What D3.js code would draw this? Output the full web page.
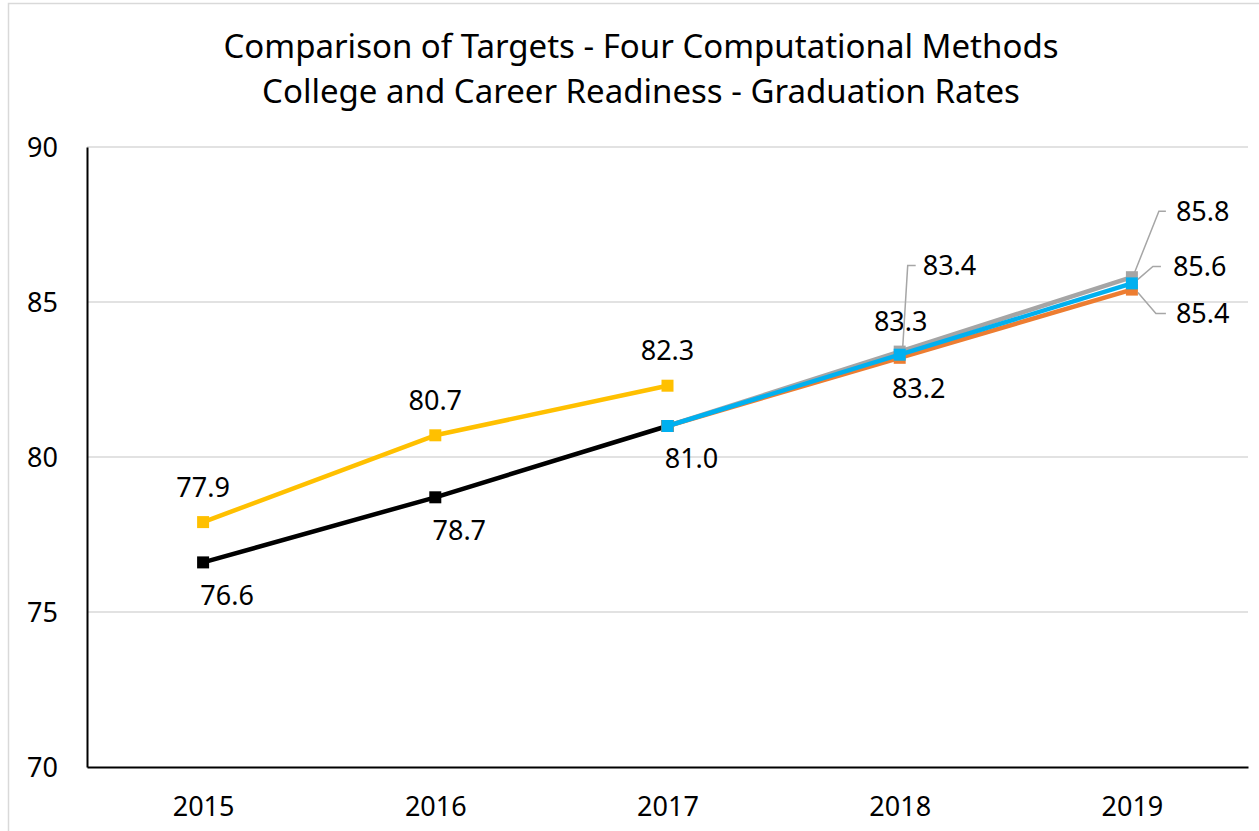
<!DOCTYPE html>
<html>
<head>
<meta charset="utf-8">
<script src="https://cdn.jsdelivr.net/npm/d3@7"></script>
<style>
  body { margin: 0; background: #fff; }
  text { font-family: "Noto Sans", "Open Sans", sans-serif; fill: #000; }
</style>
</head>
<body>
<div id="chart"></div>
<script>
// data
var years = ["2015", "2016", "2017", "2018", "2019"];
var yTicks = [70, 75, 80, 85, 90];
var titleLines = ["Comparison of Targets - Four Computational Methods",
                  "College and Career Readiness - Graduation Rates"];

var blackVals  = [76.6, 78.7, 81.0, null, null];
var yellowVals = [77.9, 80.7, 82.3, null, null];
var grayVals   = [null, null, 81.0, 83.4, 85.8];
var orangeVals = [null, null, 81.0, 83.2, 85.4];
var blueVals   = [null, null, 81.0, 83.3, 85.6];

var W = 1259, H = 831;
var margin = {top: 147, right: 11, bottom: 64, left: 87},
    width = W - margin.left - margin.right,
    height = H - margin.top - margin.bottom;

var svg = d3.select("#chart")
    .append("svg")
        .attr("width", W)
        .attr("height", H);

// outer chart border
svg.append("rect")
    .attr("x", 8.5).attr("y", 3.5)
    .attr("width", W).attr("height", H)
    .attr("fill", "none")
    .attr("stroke", "#d9d9d9")
    .attr("stroke-width", 1.5);

// title
svg.append("g").selectAll("text")
    .data(titleLines)
    .enter()
    .append("text")
    .attr("x", 641)
    .attr("y", function(d, i) { return 58 + i * 45; })
    .attr("text-anchor", "middle")
    .attr("font-size", "33px")
    .text(function(d) { return d; });

var g = svg.append("g")
    .attr("transform", "translate(" + margin.left + "," + margin.top + ")");

var x = d3.scalePoint()
    .domain(years)
    .range([0, width])
    .padding(0.5);

var y = d3.scaleLinear()
    .domain([70, 90])
    .range([height, 0]);

// gridlines
g.append("g")
    .selectAll("line")
    .data(yTicks.slice(1))
    .enter()
    .append("line")
    .attr("x1", 0).attr("x2", width)
    .attr("y1", function(d) { return y(d); })
    .attr("y2", function(d) { return y(d); })
    .attr("stroke", "#d9d9d9")
    .attr("stroke-width", 1.5);

// axes
var yAxis = g.append("g")
    .call(d3.axisLeft(y).tickValues(yTicks).tickSize(0).tickPadding(29));
yAxis.select(".domain").attr("stroke", "#000").attr("stroke-width", 2);
yAxis.selectAll("text").attr("font-size", "27px").attr("font-family", "Noto Sans").attr("dy", "0.35em");

var xAxis = g.append("g")
    .attr("transform", "translate(0," + height + ")")
    .call(d3.axisBottom(x).tickSize(0).tickPadding(30));
xAxis.select(".domain").attr("stroke", "#000").attr("stroke-width", 2);
xAxis.selectAll("text").attr("font-size", "27px").attr("font-family", "Noto Sans");

var line = d3.line()
    .defined(function(d) { return d != null; })
    .x(function(d, i) { return x(years[i]); })
    .y(function(d) { return y(d); });

function drawSeries(vals, color) {
    g.append("path")
        .datum(vals)
        .attr("d", line)
        .attr("fill", "none")
        .attr("stroke", color)
        .attr("stroke-width", 4.5)
        .attr("stroke-linejoin", "round");
    g.append("g")
        .selectAll("rect")
        .data(vals.map(function(v, i) { return {v: v, i: i}; }).filter(function(d) { return d.v != null; }))
        .enter()
        .append("rect")
        .attr("x", function(d) { return x(years[d.i]) - 6; })
        .attr("y", function(d) { return y(d.v) - 6; })
        .attr("width", 12)
        .attr("height", 12)
        .attr("fill", color);
}

drawSeries(blackVals, "#000000");
drawSeries(yellowVals, "#ffc000");
drawSeries(grayVals, "#a5a5a5");
drawSeries(orangeVals, "#ed7d31");
drawSeries(blueVals, "#00b0f0");

// data labels
function labels(vals, idx, dx, dy) {
    g.append("g")
        .selectAll("text")
        .data(idx)
        .enter()
        .append("text")
        .attr("x", function(i) { return x(years[i]) + dx; })
        .attr("y", function(i) { return y(vals[i]) + dy; })
        .attr("dy", "0.35em")
        .attr("text-anchor", "middle")
        .attr("font-size", "27px")
        .text(function(i) { return vals[i].toFixed(1); });
}

labels(yellowVals, [0, 1, 2], 0, -35);
labels(blackVals, [0, 1, 2], 24, 33);
labels(blueVals, [3], 1, -33);
labels(orangeVals, [3], 19, 31);

// labels with leader lines
var leaders = [
    {vals: grayVals, i: 3, pts: [[3, -4], [8, -86], [16, -86]], tx: 23},
    {vals: grayVals, i: 4, pts: [[2, -3], [27, -66], [34, -66]], tx: 44},
    {vals: blueVals, i: 4, pts: [[6, -4], [21, -17], [29, -17]], tx: 41},
    {vals: orangeVals, i: 4, pts: [[6, 3], [24, 24], [34, 24]], tx: 44}
];
leaders.forEach(function(l) {
    var px = x(years[l.i]), py = y(l.vals[l.i]);
    g.append("path")
        .attr("d", d3.line()(l.pts.map(function(p) { return [px + p[0], py + p[1]]; })))
        .attr("fill", "none")
        .attr("stroke", "#a6a6a6")
        .attr("stroke-width", 1.5);
    g.append("text")
        .attr("x", px + l.tx)
        .attr("y", py + l.pts[2][1])
        .attr("dy", "0.35em")
        .attr("font-size", "27px")
        .text(l.vals[l.i].toFixed(1));
});
</script>
</body>
</html>
